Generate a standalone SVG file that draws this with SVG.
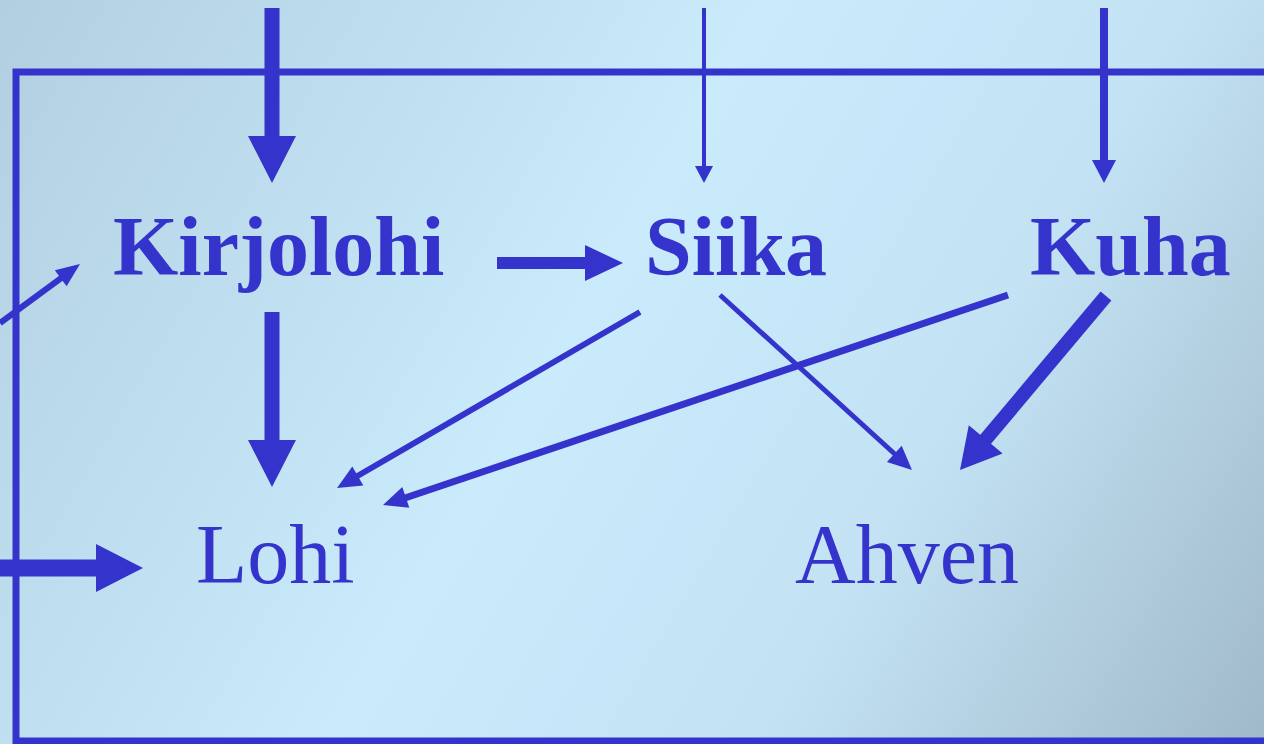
<svg xmlns="http://www.w3.org/2000/svg" width="1264" height="744" viewBox="0 0 1264 744">
<defs>
<linearGradient id="bg" x1="0" y1="0" x2="1264" y2="744" gradientUnits="userSpaceOnUse">
<stop offset="0" stop-color="#b2cfe1"/>
<stop offset="0.45" stop-color="#c9ebfc"/>
<stop offset="0.7" stop-color="#c3e3f5"/>
<stop offset="1" stop-color="#a0b9c9"/>
</linearGradient>
<style>
.ln{stroke:#3434cc;fill:none}
.hd{fill:#3434cc;stroke:none}
.b{font-family:"Liberation Serif","Times New Roman",serif;font-weight:bold;font-size:84px;fill:#3434cc}
.r{font-family:"Liberation Serif","Times New Roman",serif;font-size:84px;fill:#3434cc}
</style>
</defs>
<rect width="1264" height="744" fill="url(#bg)"/>
<path class="ln" stroke-width="7" d="M1264,72 H16 V741 H1264"/>
<g id="connectors">
<line class="ln" stroke-width="15" x1="272" y1="8" x2="272" y2="140"/>
<polygon class="hd" points="248,136 296,136 272,183"/>
<line class="ln" stroke-width="4" x1="704" y1="8" x2="704" y2="170"/>
<polygon class="hd" points="695,166 713,166 704,183"/>
<line class="ln" stroke-width="8" x1="1104" y1="8" x2="1104" y2="165"/>
<polygon class="hd" points="1092,160 1116,160 1104,183"/>
<line class="ln" stroke-width="6" x1="0" y1="323" x2="64" y2="276"/>
<polygon class="hd" points="80,264 66.6,286.3 54.8,270.3"/>
<line class="ln" stroke-width="12" x1="497" y1="263" x2="590" y2="263"/>
<polygon class="hd" points="585,245 585,281 623,263"/>
<line class="ln" stroke-width="15" x1="272" y1="312" x2="272" y2="445"/>
<polygon class="hd" points="248,440 296,440 272,487"/>
<line class="ln" stroke-width="17" x1="0" y1="568" x2="100" y2="568"/>
<polygon class="hd" points="96,544 96,592 143,568"/>
<line class="ln" stroke-width="6" x1="640" y1="312" x2="354" y2="478"/>
<polygon class="hd" points="337,488 363.3,485.5 352.3,466.5"/>
<line class="ln" stroke-width="7" x1="1008" y1="295" x2="402" y2="499"/>
<polygon class="hd" points="383,505 409.3,507.8 402.3,487"/>
<line class="ln" stroke-width="5" x1="720" y1="295" x2="898" y2="457"/>
<polygon class="hd" points="912,470 886.9,461.9 901.7,445.7"/>
<line class="ln" stroke-width="14" x1="1106" y1="296" x2="980" y2="446"/>
<polygon class="hd" points="960,470 1002.6,453.5 968.8,425.3"/>
</g>
<g id="kirjolohi"><text class="b" x="113" y="275">Kirjolohi</text></g>
<g id="siika"><text class="b" x="645" y="275">Siika</text></g>
<g id="kuha"><text class="b" x="1030" y="275">Kuha</text></g>
<g id="lohi"><text class="r" x="196" y="583">Lohi</text></g>
<g id="ahven"><text class="r" x="795" y="583">Ahven</text></g>
</svg>
